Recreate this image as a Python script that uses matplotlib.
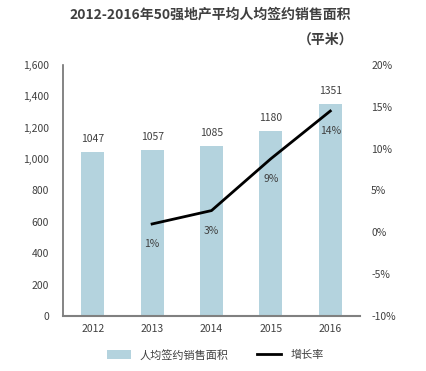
import matplotlib
matplotlib.use('Agg')
import matplotlib.pyplot as plt
import matplotlib.ticker as mticker
from matplotlib.lines import Line2D
from matplotlib.patches import Patch

plt.rcParams['font.family'] = ['Noto Sans CJK SC', 'DejaVu Sans']

years = ['2012', '2013', '2014', '2015', '2016']
area = [1047, 1057, 1085, 1180, 1351]
growth_years = ['2013', '2014', '2015', '2016']
growth = [1.0, 2.6, 8.8, 14.5]
growth_labels = ['1%', '3%', '9%', '14%']

bar_color = '#b4d3de'
text_color = '#404040'

fig = plt.figure(figsize=(4.27, 3.71), dpi=100)
ax = fig.add_axes([63 / 427, 1 - 316 / 371, 297 / 427, 251 / 371])
ax2 = ax.twinx()

x = list(range(len(years)))
ax.bar(x, area, width=0.39, color=bar_color, zorder=2)
for xi, v in zip(x, area):
    ax.text(xi, v + 50, str(v), ha='center', va='bottom', fontsize=7.5,
            color=text_color)

ax.set_xlim(-0.5, 4.5)
ax.set_ylim(0, 1600)
ax.set_yticks(range(0, 1601, 200))
ax.yaxis.set_major_formatter(mticker.FuncFormatter(lambda v, p: f'{int(v):,}'))
ax.set_xticks(x)
ax.set_xticklabels(years)
ax.tick_params(axis='both', length=0, labelsize=7.5, colors=text_color, pad=6)
ax.tick_params(axis='y', pad=10)
for s in ['top', 'right']:
    ax.spines[s].set_visible(False)
ax.spines['left'].set_color('#707070')
ax.spines['bottom'].set_color('#808080')
ax.spines['left'].set_linewidth(1.2)
ax.spines['bottom'].set_linewidth(1.5)

gx = [years.index(y) for y in growth_years]
ax2.plot(gx, growth, color='black', linewidth=2, zorder=3)
for xi, v, lab in zip(gx, growth, growth_labels):
    ax2.text(xi, v - 1.8, lab, ha='center', va='top', fontsize=7.5,
             color=text_color)
ax2.set_ylim(-10, 20)
ax2.set_yticks(range(-10, 21, 5))
ax2.yaxis.set_major_formatter(mticker.FuncFormatter(lambda v, p: f'{int(v)}%'))
ax2.tick_params(axis='y', length=0, labelsize=7.5, colors=text_color, pad=8)
for s in ['top', 'right', 'left', 'bottom']:
    ax2.spines[s].set_visible(False)

fig.text(210 / 427, 1 - 15 / 371, '2012-2016年50强地产平均人均签约销售面积',
         ha='center', va='center', fontsize=10, fontweight='bold',
         color=text_color)
fig.text(326 / 427, 1 - 40 / 371, '（平米）', ha='center', va='center',
         fontsize=10, fontweight='bold', color=text_color)

handles = [Patch(facecolor=bar_color, edgecolor='none'),
           Line2D([0], [0], color='black', linewidth=2)]
fig.legend(handles, ['人均签约销售面积', '增长率'], loc='center',
           bbox_to_anchor=(215 / 427, 1 - 355 / 371), ncol=2, frameon=False,
           fontsize=8, handlelength=2.2, handleheight=0.8, columnspacing=2.5,
           labelcolor=text_color)

fig.savefig('out.png', dpi=100)
